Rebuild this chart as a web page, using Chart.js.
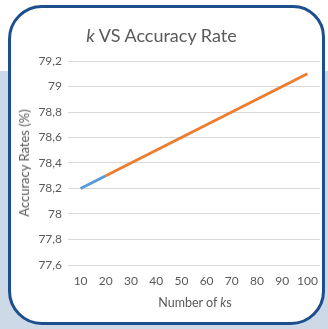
<!DOCTYPE html>
<html>
<head>
<meta charset="utf-8">
<script src="https://cdn.jsdelivr.net/npm/chart.js@4/dist/chart.umd.min.js"></script>
<style>
  html, body { margin: 0; padding: 0; background: #ffffff; }
  #page { position: relative; width: 328px; height: 329px; overflow: hidden; font-family: Lato, "Open Sans", sans-serif; }
  #backdrop { position: absolute; left: 0; top: 71px; width: 328px; height: 258px; background: #cdd9e7; }
  #panel { position: absolute; left: 8px; top: 5px; width: 317px; height: 320px; box-sizing: border-box;
           border: 3px solid #1d4e8d; border-radius: 34px 32px 34px 34px; background: #ffffff; }
  #chartBox { position: absolute; left: 0; top: 0; width: 328px; height: 329px; }
  .lbl { position: absolute; color: #595959; white-space: nowrap; }
  #title { left: 0; width: 323px; top: 24px; text-align: center; font-size: 18px; }
  #xTitle { left: 68px; width: 254px; top: 295px; text-align: center; font-size: 12.5px; }
  #yTitle { left: 24px; top: 163px; font-size: 13px; transform: translate(-50%, -50%) rotate(-90deg); }
</style>
</head>
<body>
<div id="page">
  <div id="backdrop"></div>
  <div id="panel"></div>
  <div id="chartBox"><canvas id="chart" width="328" height="329"></canvas></div>
  <div class="lbl" id="title"><i>k</i> VS Accuracy Rate</div>
  <div class="lbl" id="xTitle">Number of <i>k</i>s</div>
  <div class="lbl" id="yTitle">Accuracy Rates (%)</div>
</div>
<script>
// number of neighbours k on the x axis
const kValues = [10, 20, 30, 40, 50, 60, 70, 80, 90, 100];
// accuracy (%) for the first step, k = 10 .. 20
const accuracyStart = [78.2, 78.3];
// accuracy (%) for k = 20 .. 100
const accuracyRest = [78.3, 78.4, 78.5, 78.6, 78.7, 78.8, 78.9, 79.0, 79.1];
// y axis range and step
const yMin = 77.6;
const yMax = 79.2;
const yStep = 0.2;

const startSeries = kValues.map((_, i) => (i < accuracyStart.length ? accuracyStart[i] : null));
const restOffset = kValues.length - accuracyRest.length;
const restSeries = kValues.map((_, i) => (i >= restOffset ? accuracyRest[i - restOffset] : null));

const tickFont = { family: 'Lato, "Open Sans", sans-serif', size: 12 };
const gridColor = '#d9d9d9';
const textColor = '#595959';

new Chart(document.getElementById('chart'), {
  type: 'line',
  data: {
    labels: kValues.map(String),
    datasets: [
      { data: restSeries, borderColor: '#ed7d31', borderWidth: 3, pointRadius: 0, tension: 0, spanGaps: false },
      { data: startSeries, borderColor: '#5b9bd5', borderWidth: 3, pointRadius: 0, tension: 0, spanGaps: false }
    ]
  },
  options: {
    responsive: false,
    animation: false,
    devicePixelRatio: 1,
    layout: { padding: { left: 0, top: 61, right: 8, bottom: 0 } },
    plugins: { legend: { display: false }, tooltip: { enabled: false }, title: { display: false } },
    scales: {
      x: {
        type: 'category',
        offset: true,
        grid: { display: false, drawTicks: false },
        border: { display: false },
        ticks: { color: textColor, font: tickFont, padding: 9, maxRotation: 0, autoSkip: false },
        afterFit: (scale) => { scale.height = 64; }
      },
      y: {
        min: yMin,
        max: yMax,
        grid: { color: gridColor, lineWidth: 1, drawTicks: false },
        border: { display: false },
        ticks: {
          stepSize: yStep,
          color: textColor,
          font: tickFont,
          padding: 6,
          callback: (v) => String(Math.round(v * 10) / 10).replace('.', ',')
        },
        afterFit: (scale) => { scale.width = 68; }
      }
    }
  }
});
</script>
</body>
</html>
